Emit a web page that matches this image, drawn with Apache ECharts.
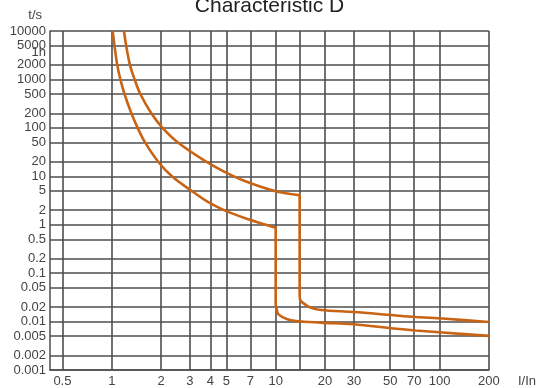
<!DOCTYPE html>
<html>
<head>
<meta charset="utf-8">
<script src="https://cdn.jsdelivr.net/npm/echarts@6/dist/echarts.min.js"></script>
<style>
html,body{margin:0;padding:0;background:#fff;}
#chart{width:539px;height:388px;}
</style>
</head>
<body>
<div id="chart"></div>
<script>
// ---- data ----
const title = 'Characteristic D';
const xTickValues = [0.5, 1, 2, 3, 4, 5, 7, 10, 14, 20, 30, 50, 70, 100, 200];
const xLabelValues = [0.5, 1, 2, 3, 4, 5, 7, 10, 20, 30, 50, 70, 100, 200];
const xLabelTexts = ['0.5', '1', '2', '3', '4', '5', '7', '10', '20', '30', '50', '70', '100', '200'];
const yTickValues = [0.001, 0.002, 0.005, 0.01, 0.02, 0.05, 0.1, 0.2, 0.5, 1, 2, 5, 10, 20, 50, 100, 200, 500, 1000, 2000, 5000, 10000];
const yLabelValues = [0.001, 0.002, 0.005, 0.01, 0.02, 0.05, 0.1, 0.2, 0.5, 1, 2, 5, 10, 20, 50, 100, 200, 500, 1000, 2000, 3600, 5000, 10000];
const yLabelTexts = ['0.001', '0.002', '0.005', '0.01', '0.02', '0.05', '0.1', '0.2', '0.5', '1', '2', '5', '10', '20', '50', '100', '200', '500', '1000', '2000', '1h', '5000', '10000'];

// lower (fast) trip curve: current I/In and time t/s
const lowerI = [1.013, 1.039, 1.08, 1.129, 1.196, 1.317, 1.439, 1.596, 1.92, 2.328, 3.067, 3.857, 4.875, 6.461, 9.7, 10, 10, 10.15, 10.4, 11.78, 13.3, 18.9, 29.9, 52.6, 71.3, 104.4, 200];
const lowerT = [10000, 5000, 2000, 1000, 500, 200, 100, 50, 20, 10, 5, 2.95, 1.98, 1.38, 0.89, 0.86, 0.0227, 0.0179, 0.0141, 0.01114, 0.01028, 0.00952, 0.00879, 0.00718, 0.00653, 0.00594, 0.00506];
// upper (slow) trip curve
const upperI = [1.188, 1.224, 1.291, 1.379, 1.494, 1.743, 2.04, 2.533, 3.774, 4.813, 6.415, 10, 13.6, 14, 14, 14.08, 14.6, 16.3, 18.9, 29.9, 52.6, 71.3, 104.4, 200];
const upperT = [10000, 5000, 2000, 1000, 500, 200, 100, 50, 20, 12.6, 8.07, 4.9, 4.1, 4.05, 0.0365, 0.0288, 0.0246, 0.0194, 0.01733, 0.01578, 0.01349, 0.01245, 0.01153, 0.00982];

function pairs(xs, ys) { return xs.map((x, i) => [x, ys[i]]); }
function lookup(values, texts, v) {
  let best = 0, bd = Infinity;
  values.forEach((u, i) => { const d = Math.abs(Math.log(u) - Math.log(v)); if (d < bd) { bd = d; best = i; } });
  return texts[best];
}

const font = '"Liberation Sans", Arial, sans-serif';
const gridColor = '#4e4e4e';
const curveColor = '#c86414';

const chart = echarts.init(document.getElementById('chart'), null, {renderer: 'canvas'});
chart.setOption({
  animation: false,
  backgroundColor: '#fff',
  title: {
    text: title, left: 'center', top: -9,
    textStyle: {fontFamily: font, fontSize: 21, fontWeight: 'normal', color: '#222'}
  },
  grid: {left: 50, right: 50, top: 31, bottom: 17, containLabel: false},
  xAxis: {
    type: 'log', logBase: 10, min: 0.42, max: 200,
    name: 'I/In', nameLocation: 'end', nameGap: 29,
    nameTextStyle: {fontFamily: font, fontSize: 13, color: '#444', verticalAlign: 'top', padding: [5, 0, 0, 0]},
    axisLine: {show: true, lineStyle: {color: gridColor, width: 1.5}},
    axisTick: {show: false, customValues: xTickValues},
    axisLabel: {
      customValues: xLabelValues, margin: 5,
      fontFamily: font, fontSize: 13, color: '#444',
      formatter: v => lookup(xLabelValues, xLabelTexts, v)
    },
    splitLine: {show: true, lineStyle: {color: gridColor, width: 1.6}}
  },
  yAxis: {
    type: 'log', logBase: 10, min: 0.001, max: 10000,
    name: 't/s', nameLocation: 'end', nameGap: 16,
    nameTextStyle: {fontFamily: font, fontSize: 13, color: '#444', align: 'right', verticalAlign: 'middle', padding: [0, 8, 0, 0]},
    axisLine: {show: true, lineStyle: {color: gridColor, width: 1.5}},
    axisTick: {show: false, customValues: yTickValues},
    axisLabel: {
      customValues: yLabelValues, margin: 4,
      fontFamily: font, fontSize: 13, color: '#444',
      formatter: v => lookup(yLabelValues, yLabelTexts, v)
    },
    splitLine: {show: true, lineStyle: {color: gridColor, width: 1.6}}
  },
  series: [
    {type: 'line', data: pairs(lowerI, lowerT), showSymbol: false, smooth: 0.35,
     lineStyle: {color: curveColor, width: 2.6}, itemStyle: {color: curveColor}},
    {type: 'line', data: pairs(upperI, upperT), showSymbol: false, smooth: 0.35,
     lineStyle: {color: curveColor, width: 2.6}, itemStyle: {color: curveColor}}
  ]
});
</script>
</body>
</html>
